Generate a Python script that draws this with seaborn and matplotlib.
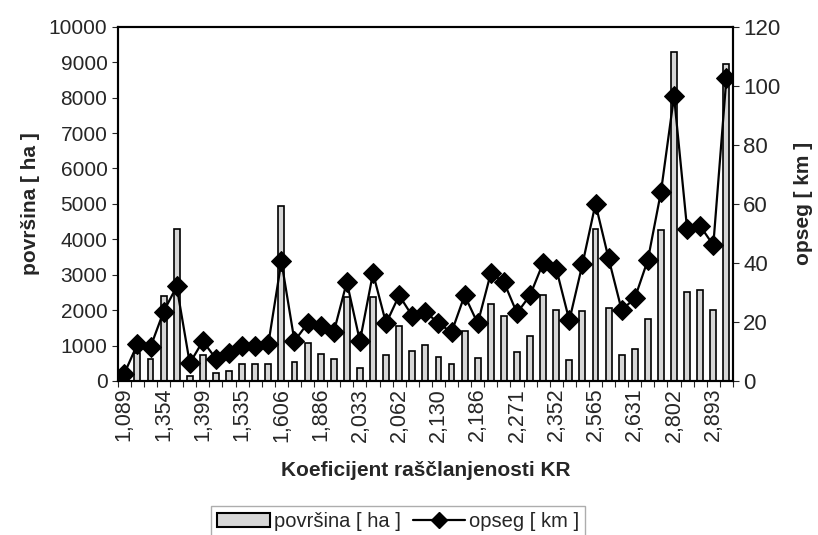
import numpy as np
import pandas as pd
import seaborn as sns
import matplotlib.pyplot as plt
from matplotlib.patches import Patch
from matplotlib.lines import Line2D

# labels shown on the x axis (every 3rd category)
kr_labels = ["1,089", "1,354", "1,399", "1,535", "1,606", "1,886", "2,033", "2,062",
             "2,130", "2,186", "2,271", "2,352", "2,565", "2,631", "2,802", "2,893"]

# površina [ha] - bars, left axis
povrsina = [100, 800, 630, 2390, 4300, 150, 730, 210, 270, 480, 480, 490,
            4950, 530, 1070, 760, 630, 2360, 360, 2370, 720, 1550, 850, 1020,
            670, 480, 1410, 660, 2170, 1820, 820, 1260, 2430, 2010, 600, 1970,
            4300, 2060, 730, 900, 1760, 4270, 9300, 2500, 2570, 1990, 8950]

# opseg [km] - line, right axis
opseg = [2.5, 12.5, 11.5, 23.5, 32, 6, 13.5, 7.5, 9.5, 12, 12, 12.5,
         40.5, 13.5, 19.5, 18.5, 16.5, 33.5, 13.5, 36.5, 19.5, 29, 22, 23.5,
         19.5, 16.5, 29, 19.5, 36.5, 33.5, 23, 29, 40, 38, 20.5, 39.5,
         60, 41.5, 24, 28, 41, 64, 96.5, 51.5, 52.5, 46, 102.5]

sns.set_style("white")
plt.rcParams['font.family'] = ['Liberation Sans', 'DejaVu Sans']

n = len(povrsina)
df = pd.DataFrame({"idx": np.arange(n), "povrsina": povrsina, "opseg": opseg})

fig = plt.figure(figsize=(8.18, 5.35), dpi=100)
ax = fig.add_axes([0.144, 0.288, 0.752, 0.662])

sns.barplot(data=df, x="idx", y="povrsina", color="#d6d6d6", saturation=1,
            edgecolor="black", linewidth=1.2, width=0.45, ax=ax)
ax.set_xlim(-0.5, n - 0.5)
ax.set_ylim(0, 10000)
ax.set_yticks(range(0, 10001, 1000))
ax.set_ylabel("površina [ ha ]", fontsize=15, fontweight="bold", labelpad=6)
ax.set_xlabel("Koeficijent raščlanjenosti KR", fontsize=15, fontweight="bold", labelpad=14)

ax2 = ax.twinx()
sns.lineplot(data=df, x="idx", y="opseg", color="black", marker="D", markersize=10,
             linewidth=1.6, markeredgecolor="black", ax=ax2)
ax2.set_xlim(-0.5, n - 0.5)
ax2.set_ylim(0, 120)
ax2.set_yticks(range(0, 121, 20))
ax2.set_ylabel("opseg [ km ]", fontsize=15, fontweight="bold", labelpad=10)

# x ticks: label every 3rd category, small marks between categories
ax.set_xticks(np.arange(0, n, 3))
ax.set_xticklabels(kr_labels, rotation=90, fontsize=15.5)
ax.set_xticks(np.arange(-0.5, n, 1), minor=True)
ax.tick_params(axis="x", which="major", length=0, pad=5)
ax.tick_params(axis="x", which="minor", length=4, width=0.8, direction="out", bottom=True)
ax.tick_params(axis="y", labelsize=15, length=4, left=True)
ax2.tick_params(axis="y", labelsize=16, length=4, right=True)

for a in (ax, ax2):
    for s in a.spines.values():
        s.set_linewidth(1.5)
        s.set_color("black")

handles = [Patch(facecolor="#d6d6d6", edgecolor="black", linewidth=1.5),
           Line2D([0], [0], color="black", marker="D", markersize=8, linewidth=1.6)]
leg = fig.legend(handles, ["površina [ ha ]", "opseg [ km ]"], loc="lower center",
                 bbox_to_anchor=(0.487, -0.022), ncol=2, fontsize=14.5, frameon=True,
                 fancybox=False, handlelength=2.6, handletextpad=0.2, columnspacing=0.6,
                 borderpad=0.3)
leg.get_frame().set_edgecolor("#999999")

fig.savefig("out.png", dpi=100)
